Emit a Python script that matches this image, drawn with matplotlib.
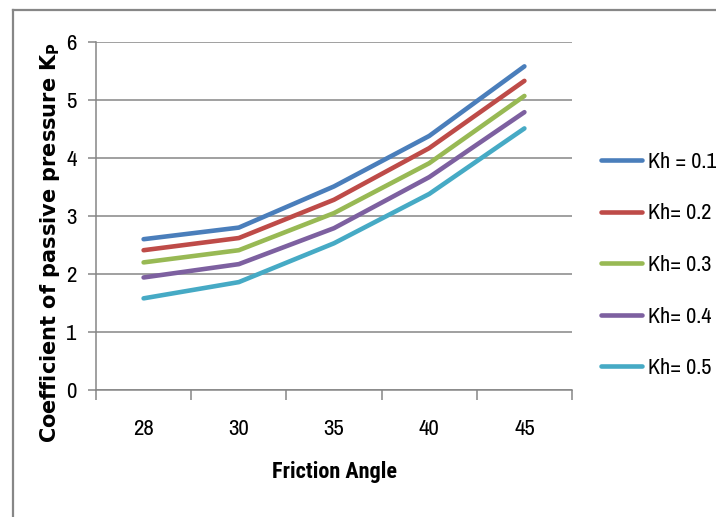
import matplotlib
matplotlib.use("Agg")
import matplotlib.pyplot as plt
from matplotlib import font_manager
from matplotlib.lines import Line2D
import numpy as np

friction_angles = ["28", "30", "35", "40", "45"]
kh_labels = ["Kh = 0.1", "Kh= 0.2", "Kh= 0.3", "Kh= 0.4", "Kh= 0.5"]
kp_kh01 = [2.60, 2.80, 3.51, 4.38, 5.58]
kp_kh02 = [2.41, 2.62, 3.28, 4.17, 5.33]
kp_kh03 = [2.20, 2.41, 3.05, 3.91, 5.07]
kp_kh04 = [1.94, 2.17, 2.79, 3.67, 4.79]
kp_kh05 = [1.58, 1.86, 2.53, 3.38, 4.51]
series = [kp_kh01, kp_kh02, kp_kh03, kp_kh04, kp_kh05]
colors = ["#4a7ebb", "#be4b48", "#98b954", "#7d60a0", "#46aac5"]

# pick a narrow sans for ticks/legend, whichever is installed
fonts = font_manager.fontManager.ttflist
narrow_choices = ["Liberation Sans Narrow", "Archivo Narrow", "Roboto Condensed",
                  "PT Sans Narrow", "Carlito", "Roboto"]
regular = {f.name for f in fonts}
bold = {f.name for f in fonts if f.weight in (700, "bold")}
narrow = next((n for n in narrow_choices if n in regular), "DejaVu Sans")
narrow_bold = next((n for n in narrow_choices if n in bold), "DejaVu Sans")

grey = "#868686"
txt_size = 16.5

fig = plt.figure(figsize=(7.16, 5.17), dpi=100)
ax = fig.add_axes([96 / 716, 1 - 390 / 517, (572 - 96) / 716, (390 - 42) / 517])

x = np.arange(len(friction_angles))
for vals, lab, col in zip(series, kh_labels, colors):
    ax.plot(x, vals, color=col, linewidth=3.3, label=lab,
            solid_capstyle="round", solid_joinstyle="round")

ax.set_xlim(-0.5, len(friction_angles) - 0.5)
ax.set_ylim(0, 6)
ax.set_yticks(range(7))
ax.yaxis.grid(True, color=grey, linewidth=1.1)
ax.set_axisbelow(True)

# category boundaries get the tick marks, centres get the labels
ax.set_xticks(np.arange(-0.5, len(friction_angles)))
ax.set_xticklabels([])
ax.set_xticks(x, minor=True)
ax.set_xticklabels(friction_angles, minor=True, fontsize=txt_size, family=narrow)
ax.tick_params(axis="x", which="major", length=7, color=grey, width=1.1)
ax.tick_params(axis="x", which="minor", length=0, pad=21)
ax.tick_params(axis="y", length=6, color=grey, width=1.1, pad=8)
for t in ax.get_yticklabels():
    t.set_fontsize(txt_size)
    t.set_family(narrow)

for side in ["top", "right"]:
    ax.spines[side].set_visible(False)
for side in ["left", "bottom"]:
    ax.spines[side].set_color(grey)
    ax.spines[side].set_linewidth(1.1)

ax.set_xlabel("Friction Angle", fontsize=16, fontweight="bold", family=narrow_bold)
ax.xaxis.set_label_coords((335 - 96) / 476, (390 - 461) / 348)
ax.set_ylabel(r"Coefficient of passive pressure K$_{\mathbf{P}}$",
              fontsize=15, fontweight="bold")
ax.yaxis.set_label_coords((62 - 96) / 476, (390 - 242) / 348)

fig.legend(loc="center left", bbox_to_anchor=(601 / 716, 1 - 265 / 517),
           frameon=False, prop={"family": narrow, "size": 16},
           borderpad=0, borderaxespad=0,
           handlelength=1.85, handletextpad=0.25, labelspacing=1.42)

# outer chart frame
fig.add_artist(Line2D([13 / 716, 1], [1 - 10 / 517] * 2, color="#878787",
                      linewidth=1.6, transform=fig.transFigure))
fig.add_artist(Line2D([13 / 716] * 2, [0, 1 - 10 / 517], color="#878787",
                      linewidth=1.6, transform=fig.transFigure))

fig.savefig("out.png", dpi=100)
